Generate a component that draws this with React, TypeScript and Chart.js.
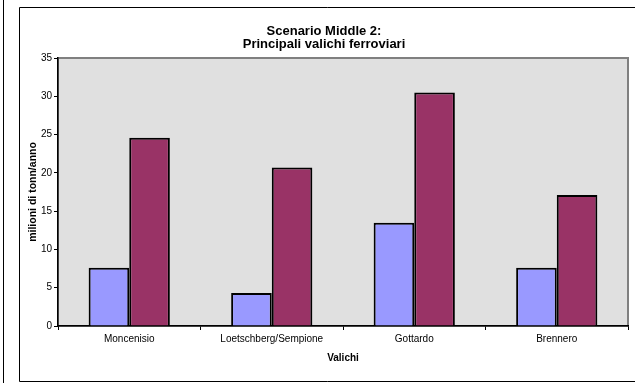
import React, { useEffect, useRef } from "react";
import { Chart, registerables } from "chart.js";

Chart.register(...registerables);

const categories = ["Moncenisio", "Loetschberg/Sempione", "Gottardo", "Brennero"];
const seriesBlue = [7.6, 4.3, 13.5, 7.6];
const seriesRed = [24.6, 20.7, 30.5, 17.1];
const yTicks = [0, 5, 10, 15, 20, 25, 30, 35];
const titleLines = ["Scenario Middle 2:", "Principali valichi ferroviari"];
const yTitle = "milioni di tonn/anno";
const xTitle = "Valichi";

const FONT = '"Liberation Sans", Arial, sans-serif';

const framePlugin = {
  id: "framePlugin",
  beforeDraw(chart: any) {
    const { ctx, chartArea } = chart;
    const { left, top, right, bottom } = chartArea;
    ctx.save();
    ctx.fillStyle = "#ffffff";
    ctx.fillRect(0, 0, chart.width, chart.height);
    // outer frame
    ctx.strokeStyle = "#000000";
    ctx.lineWidth = 1;
    ctx.beginPath();
    ctx.moveTo(3.5, 0);
    ctx.lineTo(3.5, chart.height);
    ctx.stroke();
    ctx.beginPath();
    ctx.moveTo(chart.width + 5, 7.5);
    ctx.lineTo(19.5, 7.5);
    ctx.lineTo(19.5, 381.5);
    ctx.lineTo(chart.width + 5, 381.5);
    ctx.stroke();
    // plot area
    ctx.fillStyle = "#e0e0e0";
    ctx.fillRect(left, top, right - left, bottom - top);
    ctx.strokeStyle = "#808080";
    ctx.lineWidth = 2;
    ctx.strokeRect(left, top, right - left, bottom - top);
    ctx.restore();
  },
  afterDraw(chart: any) {
    const { ctx, chartArea } = chart;
    ctx.save();
    ctx.fillStyle = "#000000";
    ctx.textAlign = "center";
    ctx.textBaseline = "middle";
    ctx.font = `bold 13px ${FONT}`;
    ctx.fillText(titleLines[0], 324, 31);
    ctx.fillText(titleLines[1], 324, 44);
    ctx.font = `bold 10px ${FONT}`;
    ctx.fillText(xTitle, (chartArea.left + chartArea.right) / 2, 358);
    ctx.translate(33.5, (chartArea.top + chartArea.bottom) / 2);
    ctx.rotate(-Math.PI / 2);
    ctx.font = `bold 10.5px ${FONT}`;
    ctx.fillText(yTitle, 0, 0);
    ctx.restore();
  },
};

export default function App() {
  const ref = useRef<HTMLCanvasElement | null>(null);

  useEffect(() => {
    if (!ref.current) return;
    const chart = new Chart(ref.current, {
      type: "bar",
      data: {
        labels: categories,
        datasets: [
          {
            label: "A",
            data: seriesBlue,
            backgroundColor: "#9999ff",
            borderColor: "#000000",
            borderWidth: 2,
            borderSkipped: "start",
            barPercentage: 1,
            categoryPercentage: 0.57,
          },
          {
            label: "B",
            data: seriesRed,
            backgroundColor: "#993366",
            borderColor: "#000000",
            borderWidth: 2,
            borderSkipped: "start",
            barPercentage: 1,
            categoryPercentage: 0.57,
          },
        ],
      },
      options: {
        responsive: false,
        animation: false,
        devicePixelRatio: 1,
        layout: { padding: { left: 0, right: 7, top: 58, bottom: 0 } },
        plugins: {
          legend: { display: false },
          title: { display: false },
          tooltip: { enabled: false },
        },
        scales: {
          x: {
            grid: {
              display: true,
              drawOnChartArea: false,
              drawTicks: true,
              tickLength: 4,
              color: "#000000",
              offset: true,
            },
            border: { display: true, color: "#000000", width: 1.5 },
            ticks: {
              color: "#000000",
              font: { family: FONT, size: 10 },
              padding: 3,
              maxRotation: 0,
              autoSkip: false,
            },
            afterFit(scale: any) {
              scale.height = 383 - 326;
            },
          },
          y: {
            min: 0,
            max: 35,
            afterBuildTicks(scale: any) {
              scale.ticks = yTicks.map((v) => ({ value: v }));
            },
            grid: {
              display: true,
              drawOnChartArea: false,
              drawTicks: true,
              tickLength: 4,
              color: "#000000",
            },
            border: { display: true, color: "#000000", width: 1.5 },
            ticks: {
              color: "#000000",
              font: { family: FONT, size: 10 },
              padding: 2,
            },
            afterFit(scale: any) {
              scale.width = 58;
            },
          },
        },
      },
      plugins: [framePlugin],
    });
    return () => chart.destroy();
  }, []);

  return (
    <div style={{ position: "absolute", left: 0, top: 0, width: 635, height: 383 }}>
      <canvas ref={ref} width={635} height={383} style={{ width: 635, height: 383, display: "block" }} />
    </div>
  );
}
